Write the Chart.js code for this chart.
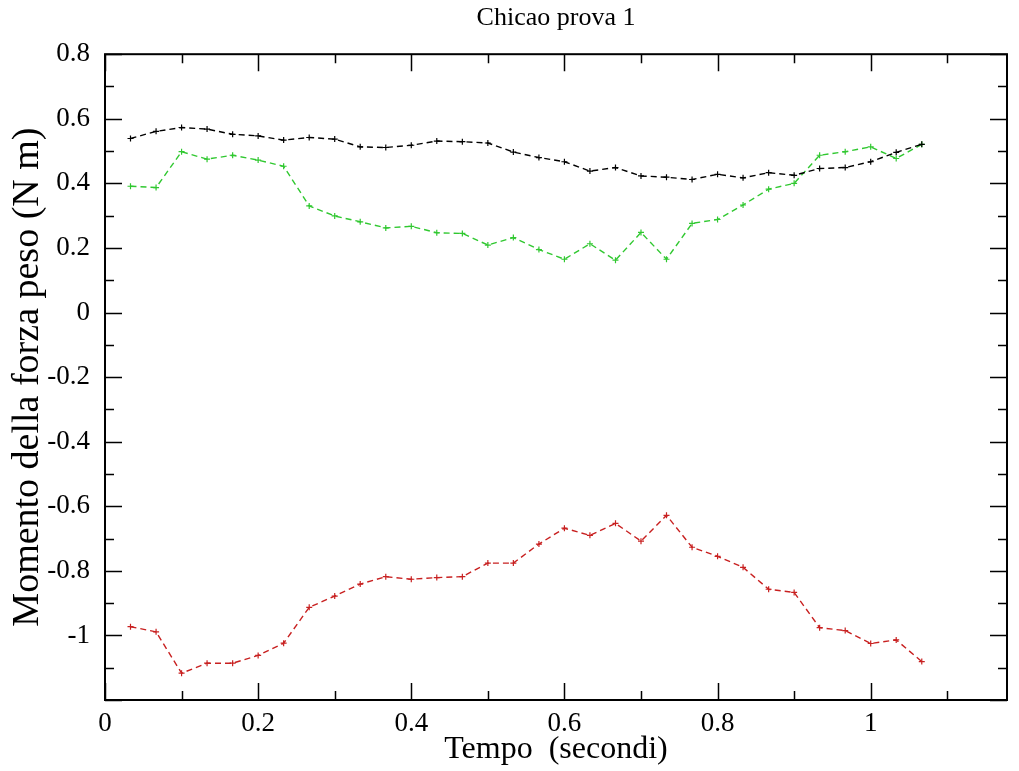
<!DOCTYPE html>
<html>
<head>
<meta charset="utf-8">
<script src="https://cdn.jsdelivr.net/npm/chart.js@4.4.0/dist/chart.umd.min.js"></script>
<style>
  html, body { margin: 0; padding: 0; background: #fff; }
  #wrap { width: 1019px; height: 771px; }
</style>
</head>
<body>
<div id="wrap"><canvas id="myChart" width="1019" height="771"></canvas></div>
<script>
// tempo (s): frame ogni 1/30 s
var tempo = [0.0333, 0.0667, 0.1, 0.1333, 0.1667, 0.2, 0.2333, 0.2667, 0.3, 0.3333,
    0.3667, 0.4, 0.4333, 0.4667, 0.5, 0.5333, 0.5667, 0.6, 0.6333, 0.6667,
    0.7, 0.7333, 0.7667, 0.8, 0.8333, 0.8667, 0.9, 0.9333, 0.9667, 1.0,
    1.0333, 1.0667];

var momentoNero = [0.539, 0.561, 0.573, 0.568, 0.552, 0.547, 0.534, 0.542, 0.537, 0.513,
    0.511, 0.518, 0.531, 0.529, 0.525, 0.497, 0.480, 0.467, 0.438, 0.449,
    0.423, 0.419, 0.412, 0.428, 0.417, 0.433, 0.425, 0.446, 0.449, 0.467,
    0.496, 0.521];

var momentoVerde = [0.391, 0.387, 0.498, 0.475, 0.487, 0.472, 0.453, 0.330, 0.299, 0.281,
    0.262, 0.267, 0.247, 0.245, 0.209, 0.232, 0.195, 0.165, 0.213, 0.162,
    0.248, 0.165, 0.276, 0.288, 0.333, 0.382, 0.400, 0.487, 0.498, 0.513,
    0.477, 0.521];

var momentoRosso = [-0.973, -0.989, -1.117, -1.086, -1.086, -1.062, -1.024, -0.913, -0.878, -0.841,
    -0.818, -0.826, -0.821, -0.818, -0.776, -0.776, -0.717, -0.668, -0.690, -0.653,
    -0.708, -0.628, -0.727, -0.755, -0.789, -0.857, -0.867, -0.976, -0.985, -1.025,
    -1.014, -1.081];

var xMajor = [0, 0.2, 0.4, 0.6, 0.8, 1.0];
var xMinor = [0.1, 0.3, 0.5, 0.7, 0.9, 1.1];
var yMajor = [0.8, 0.6, 0.4, 0.2, 0, -0.2, -0.4, -0.6, -0.8, -1.0, -1.2];
var yMinor = [0.7, 0.5, 0.3, 0.1, -0.1, -0.3, -0.5, -0.7, -0.9, -1.1];

function punti(ys) {
    return tempo.map(function (t, i) { return { x: t, y: ys[i] }; });
}

function serie(ys, col) {
    return {
        data: punti(ys),
        borderColor: col,
        backgroundColor: col,
        borderWidth: 1.4,
        borderDash: [6, 4],
        pointStyle: 'cross',
        pointRadius: 3,
        pointBorderWidth: 1.2,
        tension: 0
    };
}

function etichetta(v) {
    return String(Math.round(v * 10) / 10);
}

// cornice e tacche interne (stile xmgrace)
var cornice = {
    id: 'cornice',
    afterDraw: function (chart) {
        var c = chart.ctx, a = chart.chartArea;
        var xs = chart.scales.x, ys = chart.scales.y;
        c.save();
        c.strokeStyle = '#000';
        c.lineWidth = 2;
        c.strokeRect(a.left, a.top, a.right - a.left, a.bottom - a.top);
        c.lineWidth = 1.5;
        c.beginPath();
        function tx(v, len) {
            var p = Math.round(xs.getPixelForValue(v)) + 0.5;
            c.moveTo(p, a.bottom); c.lineTo(p, a.bottom - len);
            c.moveTo(p, a.top); c.lineTo(p, a.top + len);
        }
        function ty(v, len) {
            var p = Math.round(ys.getPixelForValue(v)) + 0.5;
            c.moveTo(a.left, p); c.lineTo(a.left + len, p);
            c.moveTo(a.right, p); c.lineTo(a.right - len, p);
        }
        xMajor.forEach(function (v) { tx(v, 17); });
        xMinor.forEach(function (v) { tx(v, 9); });
        yMajor.forEach(function (v) { ty(v, 17); });
        yMinor.forEach(function (v) { ty(v, 9); });
        c.stroke();
        c.restore();
    }
};

var ctx = document.getElementById('myChart').getContext('2d');
var chartObj = new Chart(ctx, {
    type: 'line',
    data: {
        datasets: [
            serie(momentoNero, '#000000'),
            serie(momentoVerde, '#30c830'),
            serie(momentoRosso, '#c82020')
        ]
    },
    options: {
        responsive: false,
        animation: false,
        layout: { padding: { left: 0, right: 12, top: 0, bottom: 0 } },
        plugins: {
            legend: { display: false },
            tooltip: { enabled: false },
            title: {
                display: true,
                fullSize: false,
                text: 'Chicao prova 1',
                color: '#000',
                font: { family: 'Liberation Serif', size: 26, weight: 'normal' },
                padding: { top: 3, bottom: 20 }
            }
        },
        scales: {
            x: {
                type: 'linear',
                min: 0,
                max: 1.178,
                grid: { display: false },
                border: { display: false },
                afterFit: function (s) { s.height = 71; },
                afterBuildTicks: function (s) {
                    s.ticks = xMajor.map(function (v) { return { value: v }; });
                },
                ticks: {
                    color: '#000',
                    autoSkip: false,
                    maxRotation: 0,
                    padding: 0,
                    callback: etichetta,
                    font: { family: 'Liberation Serif', size: 27 }
                },
                title: {
                    display: true,
                    text: 'Tempo  (secondi)',
                    color: '#000',
                    font: { family: 'Liberation Serif', size: 32 },
                    padding: { top: 0, bottom: 2 }
                }
            },
            y: {
                min: -1.2,
                max: 0.8,
                grid: { display: false },
                border: { display: false },
                afterFit: function (s) { s.width = 105; },
                afterBuildTicks: function (s) {
                    s.ticks = yMajor.slice(0, 10).map(function (v) { return { value: v }; });
                },
                ticks: {
                    color: '#000',
                    autoSkip: false,
                    padding: 7,
                    callback: etichetta,
                    font: { family: 'Liberation Serif', size: 27 }
                },
                title: {
                    display: true,
                    text: 'Momento della forza peso (N m)',
                    color: '#000',
                    font: { family: 'Liberation Serif', size: 38 },
                    padding: { top: 5, bottom: 0 }
                }
            }
        }
    },
    plugins: [cornice]
});
</script>
</body>
</html>
